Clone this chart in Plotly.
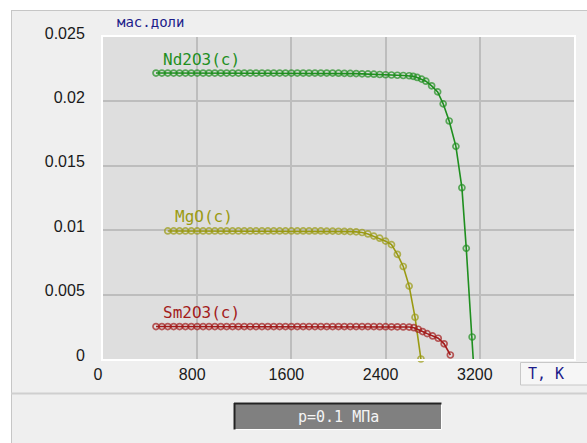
import plotly.graph_objects as go

# ---- data: mass fraction of condensed oxides vs temperature ----
nd_T = [450, 500, 550, 600, 650, 700, 750, 800, 850, 900, 950, 1000, 1050, 1100,
        1150, 1200, 1250, 1300, 1350, 1400, 1450, 1500, 1550, 1600, 1650, 1700,
        1750, 1800, 1850, 1900, 1950, 2000, 2050, 2100, 2150, 2200, 2250, 2300,
        2350, 2400, 2450, 2500, 2550, 2600, 2634, 2668, 2706, 2742, 2791, 2842,
        2889, 2940, 2997, 3048, 3085, 3135, 3144]
nd_v = [0.0222, 0.0222, 0.0222, 0.0222, 0.0222, 0.0222, 0.0222, 0.0222, 0.0222,
        0.0222, 0.0222, 0.0222, 0.0222, 0.0222, 0.0222, 0.0222, 0.0222, 0.0222,
        0.0222, 0.0222, 0.0222, 0.0222, 0.0222, 0.0222, 0.0222, 0.0222, 0.0222,
        0.0222, 0.0222, 0.0222, 0.0222, 0.02219, 0.02218, 0.02217, 0.02216,
        0.02214, 0.02213, 0.02211, 0.02209, 0.02207, 0.02205, 0.02203, 0.02201,
        0.02199, 0.02195, 0.02186, 0.02173, 0.02157, 0.02121, 0.02074, 0.01981,
        0.01848, 0.01651, 0.01330, 0.00859, 0.00171, 0.0]

mg_T = [550, 600, 650, 700, 750, 800, 850, 900, 950, 1000, 1050, 1100, 1150,
        1200, 1250, 1300, 1350, 1400, 1450, 1500, 1550, 1600, 1650, 1700, 1750,
        1800, 1850, 1900, 1950, 2000, 2050, 2100, 2150, 2200, 2250, 2300, 2350,
        2400, 2450, 2500, 2550, 2600, 2650, 2700]
mg_v = [0.00994, 0.00994, 0.00994, 0.00994, 0.00994, 0.00994, 0.00994, 0.00994,
        0.00994, 0.00994, 0.00994, 0.00994, 0.00994, 0.00994, 0.00994, 0.00994,
        0.00994, 0.00994, 0.00994, 0.00994, 0.00994, 0.00994, 0.00994, 0.00994,
        0.00994, 0.00994, 0.00994, 0.00993, 0.00993, 0.00992, 0.00991, 0.00989,
        0.00987, 0.00982, 0.00971, 0.00954, 0.00938, 0.00915, 0.00888, 0.00813,
        0.00718, 0.00566, 0.00324, 0.0]

sm_T = [450, 500, 550, 600, 650, 700, 750, 800, 850, 900, 950, 1000, 1050, 1100,
        1150, 1200, 1250, 1300, 1350, 1400, 1450, 1500, 1550, 1600, 1650, 1700,
        1750, 1800, 1850, 1900, 1950, 2000, 2050, 2100, 2150, 2200, 2250, 2300,
        2350, 2400, 2450, 2500, 2550, 2600, 2640, 2677, 2714, 2753, 2799, 2847,
        2897, 2950]
sm_v = [0.00252, 0.00252, 0.00252, 0.00252, 0.00252, 0.00252, 0.00252, 0.00252,
        0.00252, 0.00252, 0.00252, 0.00252, 0.00252, 0.00252, 0.00252, 0.00252,
        0.00252, 0.00252, 0.00252, 0.00252, 0.00252, 0.00252, 0.00252, 0.00252,
        0.00252, 0.00252, 0.00252, 0.00252, 0.00252, 0.00252, 0.00252, 0.00252,
        0.00252, 0.00252, 0.00252, 0.00252, 0.00252, 0.00252, 0.00251, 0.00251,
        0.00250, 0.00250, 0.00249, 0.00248, 0.00243, 0.00231, 0.00213, 0.00197,
        0.00179, 0.00161, 0.00118, 0.00031]

series_names = ["Nd2O3(c)", "MgO(c)", "Sm2O3(c)"]
x_ticks = [0, 800, 1600, 2400, 3200]
x_tick_text = ["0", "800", "1600", "2400", "3200"]
y_ticks = [0, 0.005, 0.01, 0.015, 0.02, 0.025]
y_tick_text = ["0", "0.005", "0.01", "0.015", "0.02", "0.025"]
y_unit = "мас.доли"
x_unit = "T, K"
pressure_text = "p=0.1 МПа"

# ---- page geometry (pixels) ----
W, H = 587, 443
L, R, T, B = 103, 574, 37, 359


def px(x):
    return (x - L) / (R - L)


def py(y):
    return (B - y) / (B - T)


colors = ["#1f8f1f", "#9a9a12", "#a31b1b"]
mono = "DejaVu Sans Mono"

fig = go.Figure()
for name, xs, ys, c in zip(series_names, [nd_T, mg_T, sm_T],
                           [nd_v, mg_v, sm_v], colors):
    sizes = [6] * len(xs)
    if name.startswith("Nd"):
        sizes[-1] = 0  # closing segment down to the axis, no marker
    fig.add_trace(go.Scatter(
        x=xs, y=ys, mode="lines+markers", name=name,
        line=dict(color=c, width=1.6),
        marker=dict(symbol="circle-open", size=sizes, color=c,
                    line=dict(width=1.7, color=c)),
        cliponaxis=False, showlegend=False))
    fig.add_annotation(x=xs[0], y=ys[0], text=name, showarrow=False,
                       xanchor="left", yanchor="middle", xshift=5, yshift=14,
                       font=dict(family=mono, size=16, color=c))


def seg(x0, y0, x1, y1, color, width=1):
    return dict(type="line", xref="paper", yref="paper", layer="below",
                x0=px(x0), y0=py(y0), x1=px(x1), y1=py(y1),
                line=dict(color=color, width=width))


def box(x0, y0, x1, y1, fill, line_color=None):
    return dict(type="rect", xref="paper", yref="paper", layer="below",
                x0=px(x0), y0=py(y0), x1=px(x1), y1=py(y1), fillcolor=fill,
                line=dict(color=line_color or fill,
                          width=1 if line_color else 0))


shapes = [
    # white margins at top and left of the window
    box(-5, -5, 592, 10, "#ffffff"),
    box(-5, -5, 11, 448, "#ffffff"),
    seg(11, 10.5, 592, 10.5, "#c6c6c6"),
    seg(11.5, 10, 11.5, 448, "#c6c6c6"),
    # divider between chart panel and status strip
    seg(11, 393.5, 592, 393.5, "#cfcfcf", 2),
    # axis-unit box
    box(520.5, 362.5, 590, 385, "#f6f6f6", "#c8c8c8"),
    # pressure box
    box(234, 403, 441.5, 429.5, "#808080", "#ffffff"),
    seg(234, 403.5, 441.5, 403.5, "#222222", 2),
    seg(234.5, 403, 234.5, 429.5, "#222222", 2),
]

fig.add_annotation(xref="paper", yref="paper", x=px(115), y=py(22),
                   text=y_unit, showarrow=False, xanchor="left",
                   yanchor="middle", font=dict(family=mono, size=14,
                                               color="#1c1c8a"))
fig.add_annotation(xref="paper", yref="paper", x=px(526), y=py(374),
                   text=x_unit, showarrow=False, xanchor="left",
                   yanchor="middle", font=dict(family=mono, size=15,
                                               color="#1c1c8a"))
fig.add_annotation(xref="paper", yref="paper", x=px(338), y=py(416.5),
                   text=pressure_text, showarrow=False, xanchor="center",
                   yanchor="middle", font=dict(family=mono, size=15,
                                               color="#f4f4f4"))

tick_font = dict(family="Liberation Sans Narrow, Liberation Sans, sans-serif",
                 size=16, color="#1a1a1a")

fig.update_layout(
    width=W, height=H,
    margin=dict(l=L, r=W - R, t=T, b=H - B, pad=0),
    paper_bgcolor="#efefef", plot_bgcolor="#dedede",
    shapes=shapes,
    xaxis=dict(range=[0, 4000], tickvals=x_ticks, ticktext=x_tick_text,
               showgrid=True, gridcolor="#bdbdbd", gridwidth=2,
               zeroline=False, showline=True, mirror=True,
               linecolor="#ffffff", linewidth=2, ticks="",
               tickfont=tick_font, ticklabelshift=-5, ticklabelstandoff=0),
    yaxis=dict(range=[0, 0.025], tickvals=y_ticks, ticktext=y_tick_text,
               showgrid=True, gridcolor="#bdbdbd", gridwidth=2,
               zeroline=False, showline=True, mirror=True,
               linecolor="#ffffff", linewidth=2, ticks="",
               tickfont=tick_font, ticklabelshift=-4, ticklabelstandoff=13),
)

fig.write_html("out.html")
